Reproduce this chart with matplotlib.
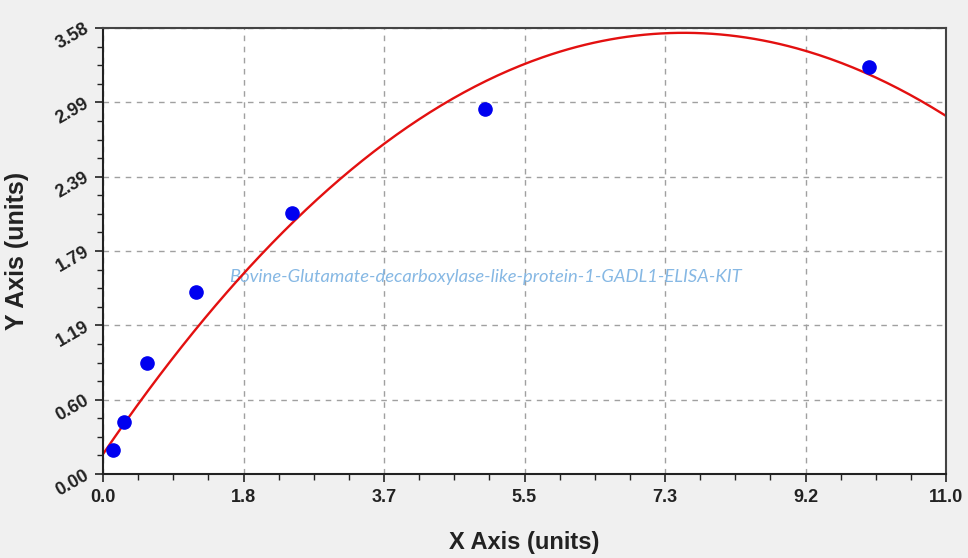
import numpy as np
import matplotlib
matplotlib.use("Agg")
import matplotlib.pyplot as plt
from matplotlib.ticker import AutoMinorLocator

# ---- data ----
std_x = [0.135, 0.28, 0.58, 1.22, 2.47, 4.98, 10.0]
std_y = [0.19, 0.415, 0.89, 1.46, 2.10, 2.93, 3.27]

# samples of the fitted red curve
curve_x = [0.0, 0.28, 1.2, 1.82, 3.66, 5.44, 7.62, 9.17, 11.0]
curve_y = [0.15, 0.41, 1.13, 1.66, 2.62, 3.27, 3.55, 3.41, 2.87]

x_max = 11.0
y_max = 3.583
x_tick_labels = ["0.0", "1.8", "3.7", "5.5", "7.3", "9.2", "11.0"]
y_tick_labels = ["0.00", "0.60", "1.19", "1.79", "2.39", "2.99", "3.58"]

watermark = "Bovine-Glutamate-decarboxylase-like-protein-1-GADL1-ELISA-KIT"

plt.rcParams['font.family'] = ['Liberation Sans', 'DejaVu Sans']
tick_family = ['Liberation Sans Narrow', 'Liberation Sans', 'DejaVu Sans']

fig = plt.figure(figsize=(9.68, 5.58), dpi=100, facecolor='#f0f0f0')
ax = fig.add_axes([103/968, 1-474/558, (946-103)/968, (474-28)/558])
ax.set_facecolor('white')

coef = np.polyfit(curve_x, curve_y, 3)
xx = np.linspace(0, x_max, 300)
ax.plot(xx, np.polyval(coef, xx), color='#e31010', lw=1.7, zorder=2, clip_on=True)
ax.plot(std_x, std_y, ls='none', marker='o', ms=9.5, color='#0000f0', zorder=3)

ax.set_xlim(0, x_max)
ax.set_ylim(0, y_max)
ax.set_xticks(np.linspace(0, x_max, len(x_tick_labels)))
ax.set_xticklabels(x_tick_labels)
ax.set_yticks(np.linspace(0, y_max, len(y_tick_labels)))
ax.set_yticklabels(y_tick_labels, rotation=30, ha='right', va='center', rotation_mode='anchor')
ax.xaxis.set_minor_locator(AutoMinorLocator(4))
ax.yaxis.set_minor_locator(AutoMinorLocator(4))

ax.tick_params(which='major', direction='out', length=6, width=1.2, color='#222222',
               labelsize=13, labelcolor='#222222', pad=5)
ax.tick_params(which='minor', direction='out', length=4, width=1.0, color='#222222')
ax.tick_params(axis='x', which='major', pad=5)
for lab in ax.get_xticklabels() + ax.get_yticklabels():
    lab.set_fontweight('bold')
    lab.set_family(tick_family)

ax.grid(True, which='major', color='#a0a0a0', ls=(0, (4, 4)), lw=1.0)
ax.set_axisbelow(True)
for side in ['left', 'bottom']:
    ax.spines[side].set_color('#222222')
    ax.spines[side].set_linewidth(1.5)
for side in ['top', 'right']:
    ax.spines[side].set_color('#444444')
    ax.spines[side].set_linewidth(1.5)

ax.set_xlabel("X Axis (units)", fontsize=17, fontweight='bold', color='#222222')
ax.xaxis.set_label_coords(0.5, (474-543)/446)
ax.xaxis.label.set_va('center')
ax.set_ylabel("Y Axis (units)", fontsize=18, fontweight='bold', color='#222222')
ax.yaxis.set_label_coords((17-103)/843, 0.5)
ax.yaxis.label.set_va('center')

ax.text(485/968, 1-277/558, watermark, transform=fig.transFigure, ha='center', va='center',
        fontsize=13.2, style='italic', color='#86b8e4', family=['Lato', 'DejaVu Sans'], zorder=1.5)

fig.savefig("out.png", dpi=100, facecolor=fig.get_facecolor())
